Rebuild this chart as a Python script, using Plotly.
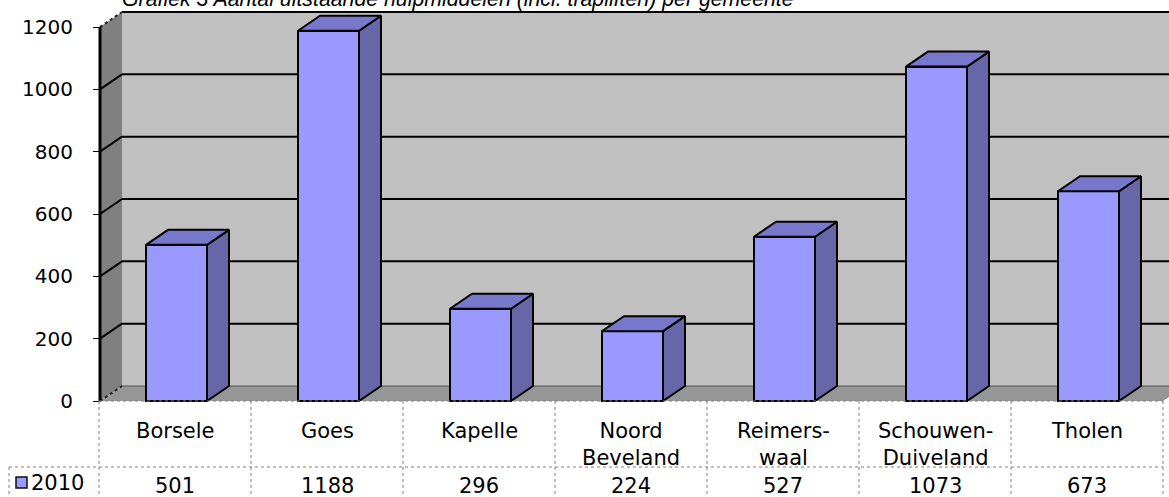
import plotly.graph_objects as go

# ---------------- data ----------------
categories = ["Borsele", "Goes", "Kapelle", "Noord<br>Beveland", "Reimers-<br>waal",
              "Schouwen-<br>Duiveland", "Tholen"]
series_name = "2010"
values_2010 = [501, 1188, 296, 224, 527, 1073, 673]
y_ticks = [0, 200, 400, 600, 800, 1000, 1200]
title_text = "Grafiek 3 Aantal uitstaande hulpmiddelen (incl. trapliften) per gemeente"

# ---------------- geometry (pixel layout -> axis units) ----------------
W, H = 1169, 497
COL_LEFT_PX, COL_W_PX = 99, 152
ZERO_PX, TOP_PX = 401, 27
YMAX = 1200
K = YMAX / (ZERO_PX - TOP_PX)


def px2x(px):
    return -0.5 + (px - COL_LEFT_PX) / COL_W_PX


def py2y(py):
    return (ZERO_PX - py) * K


DX = 22 / COL_W_PX
DY = 15 * K
AX_X = px2x(100)
X_END = len(categories) - 0.5
BAR_W = 61 / COL_W_PX
BAR_SHIFT = 1.5 / COL_W_PX

FRONT = "#9999FF"
TOP = "#7777CC"
SIDE = "#6666A8"

fig = go.Figure()

# front faces
xc = [i + BAR_SHIFT for i in range(len(values_2010))]
fig.add_trace(go.Bar(x=xc, y=values_2010, width=BAR_W,
                     marker=dict(color=FRONT, line=dict(color="black", width=2)),
                     hoverinfo="skip", showlegend=False))

# side and top faces computed from values
side_x, side_y, top_x, top_y = [], [], [], []
for x, v in zip(xc, values_2010):
    xl, xr = x - BAR_W / 2, x + BAR_W / 2
    side_x += [xr, xr + DX, xr + DX, xr, xr, None]
    side_y += [0, DY, v + DY, v, 0, None]
    top_x += [xl, xl + DX, xr + DX, xr, xl, None]
    top_y += [v, v + DY, v + DY, v, v, None]
fig.add_trace(go.Scatter(x=side_x, y=side_y, mode="lines", fill="toself", fillcolor=SIDE,
                         line=dict(color="black", width=2), hoverinfo="skip", showlegend=False))
fig.add_trace(go.Scatter(x=top_x, y=top_y, mode="lines", fill="toself", fillcolor=TOP,
                         line=dict(color="black", width=2), hoverinfo="skip", showlegend=False))

shapes = []
# back wall
shapes.append(dict(type="rect", xref="x", yref="y", x0=AX_X + DX, x1=X_END + DX, y0=DY, y1=YMAX + DY,
                   fillcolor="#C0C0C0", line=dict(width=0), layer="below"))
# left wall
shapes.append(dict(type="path", xref="x", yref="y",
                   path=f"M {AX_X},0 L {AX_X},{YMAX} L {AX_X+DX},{YMAX+DY} L {AX_X+DX},{DY} Z",
                   fillcolor="#808080", line=dict(width=0), layer="below"))
# floor
shapes.append(dict(type="path", xref="x", yref="y",
                   path=f"M {AX_X},0 L {AX_X+DX},{DY} L {X_END+DX},{DY} L {X_END},0 Z",
                   fillcolor="#969696", line=dict(width=0), layer="below"))
# gridlines
for v in y_ticks:
    if v in (0, YMAX):
        shapes.append(dict(type="line", xref="x", yref="y", x0=AX_X, y0=v, x1=AX_X + DX, y1=v + DY,
                           line=dict(color="#222", width=2, dash="dot"), layer="below"))
    else:
        shapes.append(dict(type="line", xref="x", yref="y", x0=AX_X, y0=v, x1=AX_X + DX, y1=v + DY,
                           line=dict(color="black", width=2), layer="below"))
    shapes.append(dict(type="line", xref="x", yref="y", x0=AX_X + DX, y0=v + DY, x1=X_END + DX + 1,
                       y1=v + DY, line=dict(color="black" if v else "#555", width=2 if v else 1),
                       layer="below"))
# axis line
shapes.append(dict(type="line", xref="x", yref="y", x0=AX_X, x1=AX_X, y0=0, y1=YMAX,
                   line=dict(color="black", width=3)))

# data table
GRID = dict(color="#808080", width=1, dash="dot")
row_mid = py2y(467)
bottom = py2y(H + 2)
shapes.append(dict(type="line", xref="x", yref="y", x0=-0.5, x1=X_END, y0=0, y1=0, line=GRID))
for k in range(len(categories) + 1):
    shapes.append(dict(type="line", xref="x", yref="y", x0=k - 0.5, x1=k - 0.5, y0=0, y1=bottom, line=GRID))
legend_left = px2x(9)
shapes.append(dict(type="line", xref="x", yref="y", x0=legend_left, x1=X_END, y0=row_mid, y1=row_mid, line=GRID))
shapes.append(dict(type="line", xref="x", yref="y", x0=legend_left, x1=legend_left, y0=row_mid, y1=bottom, line=GRID))
# legend key
shapes.append(dict(type="rect", xref="x", yref="y", x0=px2x(16), x1=px2x(27), y0=py2y(488), y1=py2y(477),
                   fillcolor=FRONT, line=dict(color="#111", width=1.5)))

TFONT = dict(family="DejaVu Sans", size=21, color="black")
annotations = []
for i, (c, v) in enumerate(zip(categories, values_2010)):
    annotations.append(dict(x=i, y=py2y(417), xref="x", yref="y", text=c, showarrow=False,
                            xanchor="center", yanchor="top", font=TFONT, align="center"))
    annotations.append(dict(x=i, y=py2y(486), xref="x", yref="y", text=str(v), showarrow=False,
                            xanchor="center", yanchor="middle", font=TFONT))
annotations.append(dict(x=px2x(29), y=py2y(483), xref="x", yref="y", text=series_name, showarrow=False,
                        xanchor="left", yanchor="middle", font=TFONT))
annotations.append(dict(x=120 / W, y=1 - 13 / H, xref="paper", yref="paper", text="<i>" + title_text + "</i>",
                        showarrow=False, xanchor="left", yanchor="bottom",
                        font=dict(family="Liberation Sans, Arial", size=21.3, color="black")))

fig.update_layout(
    width=W, height=H,
    margin=dict(l=0, r=0, t=0, b=0),
    paper_bgcolor="white", plot_bgcolor="white",
    showlegend=False,
    bargap=0,
    xaxis=dict(range=[px2x(0), px2x(W)], domain=[0, 1], visible=False, fixedrange=True),
    yaxis=dict(range=[py2y(H), py2y(0)], domain=[0, 1], anchor="free", position=100 / W,
               tickvals=y_ticks, ticktext=[str(t) for t in y_ticks],
               ticks="outside", ticklen=7, tickwidth=1, tickcolor="black",
               ticklabelstandoff=16, showgrid=False, zeroline=False, showline=False,
               tickfont=dict(family="DejaVu Sans", size=20, color="black"), fixedrange=True),
    shapes=shapes,
    annotations=annotations,
    hovermode=False,
)

fig.write_html("out.html", config={"displayModeBar": False},
               post_script="document.body.style.margin='0';document.body.style.overflow='hidden';")
